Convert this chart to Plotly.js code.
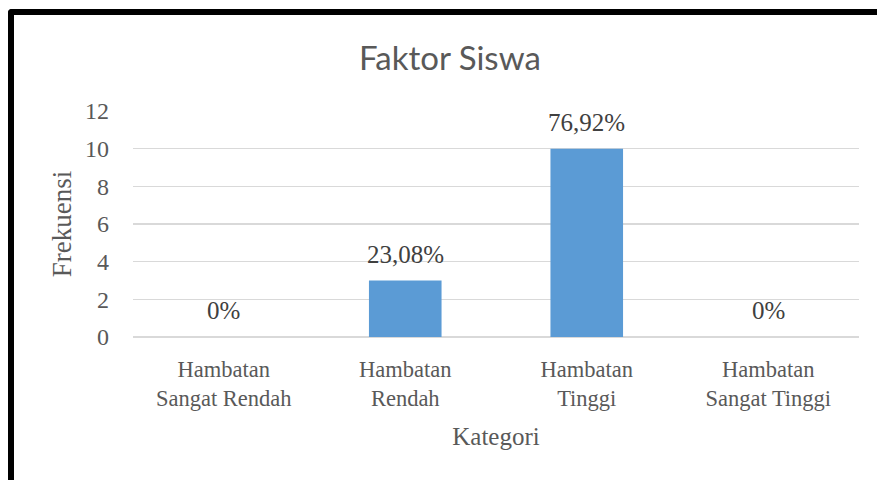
<!DOCTYPE html>
<html>
<head>
<meta charset="utf-8">
<script src="https://cdn.plot.ly/plotly-3.0.1.min.js"></script>
<style>
html,body{margin:0;padding:0;background:#fff;}
#wrap{position:relative;width:877px;height:480px;overflow:hidden;}
#chart{position:absolute;left:0;top:0;width:877px;height:480px;}
#frame{position:absolute;left:8px;top:9px;width:900px;height:500px;border-left:6px solid #000;border-top:6px solid #000;border-top-left-radius:4px;pointer-events:none;}
</style>
</head>
<body>
<div id="wrap"><div id="chart"></div><div id="frame"></div></div>
<script>
const categories = ["Hambatan<br>Sangat Rendah", "Hambatan<br>Rendah", "Hambatan<br>Tinggi", "Hambatan<br>Sangat Tinggi"];
const frekuensi = [0, 3, 10, 0];
const labels = ["0%", "23,08%", "76,92%", "0%"];
const yTicks = [0, 2, 4, 6, 8, 10, 12];

const grey = "#595959";
const serif = "Liberation Serif, Times New Roman, serif";

const trace = {
  type: "bar",
  x: categories,
  y: frekuensi,
  marker: {color: "#5b9bd5"},
  hoverinfo: "none"
};

const annotations = categories.map((c, i) => ({
  x: c, y: frekuensi[i], xref: "x", yref: "y",
  text: labels[i], showarrow: false, yanchor: "bottom", yshift: 11,
  font: {family: serif, size: 25, color: "#404040"}
}));

const layout = {
  width: 877, height: 480,
  margin: {l: 133, r: 18, t: 111, b: 142.5},
  paper_bgcolor: "#fff", plot_bgcolor: "#fff",
  bargap: 0.6,
  showlegend: false,
  title: {text: "Faktor Siswa", x: 0.513, xanchor: "center", y: 0.879, yanchor: "middle",
          font: {family: "Lato, sans-serif", size: 33, color: grey}},
  xaxis: {
    type: "category",
    tickfont: {family: serif, size: 22.5, color: grey},
    showgrid: false, showline: false, ticks: "", ticklabelstandoff: 16,
    title: {text: "Kategori", font: {family: serif, size: 25, color: grey}, standoff: 17}
  },
  yaxis: {
    range: [0, 12], tickvals: yTicks, ticktext: yTicks.map(String),
    tickfont: {family: serif, size: 24, color: grey},
    showgrid: true, gridcolor: "#d9d9d9", gridwidth: 1.5,
    zeroline: true, zerolinecolor: "#d9d9d9", zerolinewidth: 1.5,
    showline: false, ticks: "", ticklabelstandoff: 23,
    title: {text: "Frekuensi", font: {family: serif, size: 27, color: grey}, standoff: 5}
  },
  annotations: annotations
};

Plotly.newPlot("chart", [trace], layout, {staticPlot: true, displayModeBar: false});
</script>
</body>
</html>
